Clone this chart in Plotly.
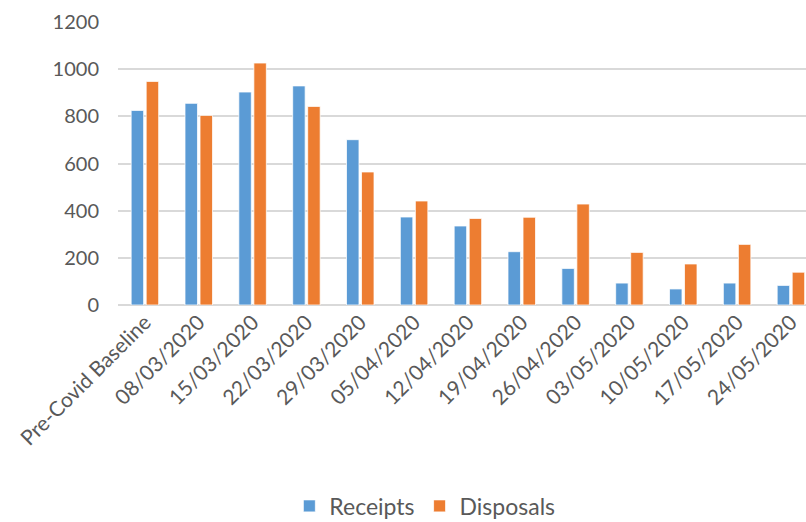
import plotly.graph_objects as go

categories = ["Pre-Covid Baseline", "08/03/2020", "15/03/2020", "22/03/2020", "29/03/2020",
              "05/04/2020", "12/04/2020", "19/04/2020", "26/04/2020", "03/05/2020",
              "10/05/2020", "17/05/2020", "24/05/2020"]
receipts = [825, 855, 903, 929, 701, 373, 335, 226, 155, 93, 68, 93, 83]
disposals = [948, 804, 1026, 842, 564, 441, 367, 372, 428, 223, 174, 257, 139]
y_ticks = [0, 200, 400, 600, 800, 1000, 1200]

FONT = "Lato"
TXT = "#595959"

fig = go.Figure()
fig.add_trace(go.Bar(name="Receipts", x=categories, y=receipts,
                     marker=dict(color="#5B9BD5", line=dict(color="#FFFFFF", width=0.75))))
fig.add_trace(go.Bar(name="Disposals", x=categories, y=disposals,
                     marker=dict(color="#ED7D31", line=dict(color="#FFFFFF", width=0.75))))

fig.update_layout(
    width=806, height=522,
    margin=dict(l=118, r=0, t=22, b=217, autoexpand=False),
    paper_bgcolor="white", plot_bgcolor="white",
    barmode="group", bargap=0.442, bargroupgap=0.17,
    font=dict(family=FONT, size=20, color=TXT),
    legend=dict(orientation="h", x=0.446, xanchor="center", y=-0.71, yanchor="middle",
                font=dict(family=FONT, size=23, color=TXT),
                traceorder="normal"),
    showlegend=True,
)
fig.update_xaxes(type="category", range=[-0.5, 12.28], tickangle=-45,
                 tickfont=dict(family=FONT, size=21, color=TXT),
                 showgrid=False, showline=False, ticks="", automargin=False)
fig.update_yaxes(range=[0, 1200], tickvals=y_ticks, showgrid=True, gridcolor="#D9D9D9",
                 gridwidth=1.5, zeroline=True, zerolinecolor="#D9D9D9", zerolinewidth=1.5,
                 showline=False, ticks="", ticklabelstandoff=18,
                 tickfont=dict(family=FONT, size=20, color=TXT), automargin=False)

fig.write_html("out.html")
